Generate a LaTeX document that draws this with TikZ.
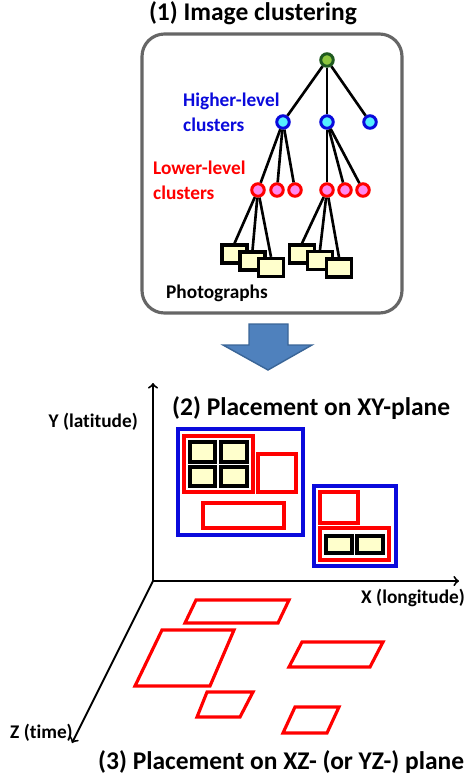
\documentclass[tikz,border=0pt]{standalone}
\usepackage{fontspec}
\setmainfont{Carlito}[Ligatures=NoCommon]
\usepackage{tikz}

\definecolor{rootfill}{HTML}{8DC63F}
\definecolor{rootline}{HTML}{1F5A1F}
\definecolor{upfill}{HTML}{55EEFF}
\definecolor{upline}{HTML}{0A0ADC}
\definecolor{lowfill}{HTML}{FF88EE}
\definecolor{photofill}{HTML}{FFFFCC}
\definecolor{arrowfill}{HTML}{4F81BD}
\definecolor{arrowline}{HTML}{3A6597}

\begin{document}
\begin{tikzpicture}[x=0.02cm, y=-0.02cm, font=\bfseries\fontsize{11}{14}\selectfont,
  vertex/.style={circle, line width=1.7pt, minimum size=0.25cm, inner sep=0pt},
  rootv/.style={vertex, draw=rootline, fill=rootfill},
  upv/.style={vertex, draw=upline, fill=upfill},
  lowv/.style={vertex, draw=red, fill=lowfill},
  photo/.style={rectangle, draw, line width=1.9pt, fill=photofill, minimum width=0.5cm, minimum height=0.36cm, inner sep=0pt},
  edge/.style={line width=1.5pt},
  bigtitle/.style={font=\bfseries\fontsize{14.5}{17}\selectfont},
  outer/.style={draw=upline, line width=1.8pt},
  inner/.style={draw=red, line width=1.8pt},
  tile/.style={draw, fill=photofill, line width=2.1pt}]
  \useasboundingbox (0,0) rectangle (474,782);

  % Image clustering
  \node[bigtitle] (title1) at (253,13) {(1) Image clustering};
  \draw[line width=1.8pt, draw=black!60, rounded corners=0.45cm] (142,34) rectangle (402,313);

  \node[rootv] (root) at (327,60) {};
  \node[upv] (h1) at (283,122) {};
  \node[upv] (h2) at (327,122) {};
  \node[upv] (h3) at (370,122) {};
  \node[lowv] (l1) at (258,190) {};
  \node[lowv] (l2) at (277,190) {};
  \node[lowv] (l3) at (295,190) {};
  \node[lowv] (l4) at (327,190) {};
  \node[lowv] (l5) at (345,190) {};
  \node[lowv] (l6) at (363,190) {};
  \draw[edge] (root) -- (h1);
  \draw[edge] (root) -- (h2);
  \draw[edge] (root) -- (h3);
  \foreach \c in {l1,l2,l3} \draw[edge] (h1) -- (\c);
  \foreach \c in {l4,l5,l6} \draw[edge] (h2) -- (\c);

  % Photographs
  \node[photo] (p1) at (234.5,254) {};
  \node[photo] (p2) at (252.5,261) {};
  \node[photo] (p3) at (271,267.5) {};
  \node[photo] (p4) at (302,254) {};
  \node[photo] (p5) at (320,260.5) {};
  \node[photo] (p6) at (339,268) {};
  \foreach \p in {p1,p2,p3} \draw[edge] (l1) -- (\p.north);
  \foreach \p in {p4,p5,p6} \draw[edge] (l4) -- (\p.north);

  \node[anchor=west, align=left, text=upline] (hlab) at (177,112) {Higher-level\\clusters};
  \node[anchor=west, align=left, text=red] (llab) at (147,180) {Lower-level\\clusters};
  \node[anchor=west] (plab) at (160,293) {Photographs};

  % Block arrow
  \draw[fill=arrowfill, draw=arrowline, line width=0.8pt]
    (249,324) -- (288,324) -- (288,345) -- (312,345) -- (268,370) -- (223,345) -- (249,345) -- cycle;

  % Axes
  \coordinate (O) at (153,581);
  \coordinate (ytip) at (153,383);
  \coordinate (xtip) at (459,581);
  \coordinate (ztip) at (72,743);
  \draw[->, line width=1.1pt] (O) -- (ytip);
  \draw[->, line width=1.1pt] (O) -- (xtip);
  \draw[->, line width=1.1pt] (O) -- (ztip);
  \node[anchor=east] (ylab) at (144,422) {Y (latitude)};
  \node[anchor=west] (xlab) at (355,598) {X (longitude)};
  \node[anchor=west] (zlab) at (4,733) {Z (time)};

  % XY-plane
  \node[bigtitle, anchor=west] (title2) at (166,408) {(2) Placement on XY-plane};
  \draw[outer] (178,429) rectangle (303,535);
  \draw[inner] (184,436) rectangle (253,492);
  \draw[inner] (258,454) rectangle (296,492);
  \draw[inner] (203,503) rectangle (284,528);
  \draw[tile] (190,442) rectangle (215,462);
  \draw[tile] (221,442) rectangle (247,462);
  \draw[tile] (190,467) rectangle (215,486);
  \draw[tile] (221,467) rectangle (247,486);
  \draw[outer] (314,486) rectangle (396,566);
  \draw[inner] (320,492) rectangle (358,523);
  \draw[inner] (320,528) rectangle (389,560);
  \draw[tile] (326,536) rectangle (352,553);
  \draw[tile] (357,536) rectangle (383,553);

  % XZ-plane
  \draw[inner] (196,600) -- (289,600) -- (278,623) -- (185,623) -- cycle;
  \draw[inner] (162,630) -- (234,630) -- (210,686) -- (135,686) -- cycle;
  \draw[inner] (302,642) -- (383,642) -- (370,667) -- (289,667) -- cycle;
  \draw[inner] (207,692) -- (253,692) -- (240,717) -- (197,717) -- cycle;
  \draw[inner] (295,707) -- (339,707) -- (327,733) -- (283,733) -- cycle;
  \node[bigtitle, anchor=west] (title3) at (92,762) {(3) Placement on XZ- (or YZ-) plane};
\end{tikzpicture}
\end{document}
